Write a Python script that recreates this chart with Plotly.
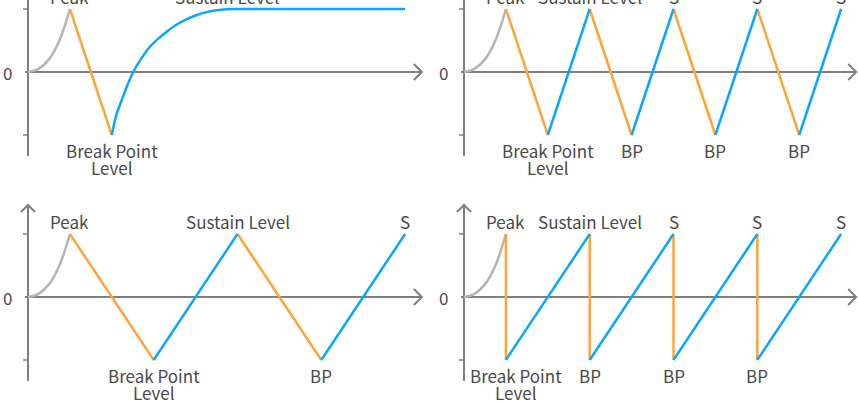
import plotly.graph_objects as go

# envelope data (time units, level units: peak/sustain = 1, break point = -1)
attack_t = [0, 0.25, 0.5, 0.75, 1]
attack_y = [0, 0.05, 0.2, 0.5, 1]

# panel 1: decay to break point, then exponential rise to sustain
p1_decay_t = [1, 2]
p1_decay_y = [1, -1]
p1_rise_t = [2, 2.11, 2.24, 2.36, 2.51, 2.71, 2.91, 3.11, 3.31, 3.55, 3.79, 4.03, 4.26, 4.5, 4.74, 5, 9]
p1_rise_y = [-1, -0.68, -0.44, -0.23, 0, 0.22, 0.40, 0.53, 0.64, 0.755, 0.84, 0.905, 0.95, 0.98, 0.995, 1, 1]
p1_top_t, p1_top_lbl = [1, 4.74], ["Peak", "Sustain Level"]
p1_bot_t, p1_bot_lbl = [2], ["Break Point|Level"]

# panel 2: fast loop
p2_decay_t = [1, 2, None, 3, 4, None, 5, 6, None, 7, 8]
p2_decay_y = [1, -1, None, 1, -1, None, 1, -1, None, 1, -1]
p2_rise_t = [2, 3, None, 4, 5, None, 6, 7, None, 8, 9]
p2_rise_y = [-1, 1, None, -1, 1, None, -1, 1, None, -1, 1]
p2_top_t, p2_top_lbl = [1, 3, 5, 7, 9], ["Peak", "Sustain Level", "S", "S", "S"]
p2_bot_t, p2_bot_lbl = [2, 4, 6, 8], ["Break Point|Level", "BP", "BP", "BP"]

# panel 3: slow loop
p3_decay_t = [1, 3, None, 5, 7]
p3_decay_y = [1, -1, None, 1, -1]
p3_rise_t = [3, 5, None, 7, 9]
p3_rise_y = [-1, 1, None, -1, 1]
p3_top_t, p3_top_lbl = [1, 5, 9], ["Peak", "Sustain Level", "S"]
p3_bot_t, p3_bot_lbl = [3, 7], ["Break Point|Level", "BP"]

# panel 4: instant decay, ramp
p4_decay_t = [1, 1, None, 3, 3, None, 5, 5, None, 7, 7]
p4_decay_y = [1, -1, None, 1, -1, None, 1, -1, None, 1, -1]
p4_rise_t = [1, 3, None, 3, 5, None, 5, 7, None, 7, 9]
p4_rise_y = [-1, 1, None, -1, 1, None, -1, 1, None, -1, 1]
p4_top_t, p4_top_lbl = [1, 3, 5, 7, 9], ["Peak", "Sustain Level", "S", "S", "S"]
p4_bot_t, p4_bot_lbl = [1, 3, 5, 7], ["Break Point|Level", "BP", "BP", "BP"]

W, H = 858, 404
PX_T, PX_Y = 41.9, 63.0
GRAY = "#B4B4B4"
ORANGE = "#FFA437"
BLUE = "#0AA6FF"
AXIS = "#7F7F7F"
TEXT = "#4A4A4A"
FONT = "Noto Sans CJK SC"
FSIZE = 17

panels = [
    ("", 28, 72, [0, 0.5], [0.5, 1], 9.4,
     p1_decay_t, p1_decay_y, p1_rise_t, p1_rise_y, p1_top_t, p1_top_lbl, p1_bot_t, p1_bot_lbl, "spline"),
    ("2", 35, 72, [0.5, 1], [0.5, 1], 9.36,
     p2_decay_t, p2_decay_y, p2_rise_t, p2_rise_y, p2_top_t, p2_top_lbl, p2_bot_t, p2_bot_lbl, "linear"),
    ("3", 28, 95, [0, 0.5], [0, 0.5], 9.4,
     p3_decay_t, p3_decay_y, p3_rise_t, p3_rise_y, p3_top_t, p3_top_lbl, p3_bot_t, p3_bot_lbl, "linear"),
    ("4", 35, 95, [0.5, 1], [0, 0.5], 9.36,
     p4_decay_t, p4_decay_y, p4_rise_t, p4_rise_y, p4_top_t, p4_top_lbl, p4_bot_t, p4_bot_lbl, "linear"),
]

fig = go.Figure()
shapes = []
annotations = []
layout = {}


def label(xa, ya, t, y, text, yshift, xshift=0):
    return dict(x=t, y=y, xref=xa, yref=ya, text=text, showarrow=False, yshift=yshift, xshift=xshift,
                font=dict(family=FONT, size=FSIZE, color=TEXT))


for (sfx, ox, oy, xdom, ydom, xend, dt, dy, rt, ry, tt, tl, bt, bl, rshape) in panels:
    xa, ya = "x" + sfx, "y" + sfx
    pw, ph = 429, 202
    layout["xaxis" + sfx] = dict(domain=xdom, range=[-ox / PX_T, (pw - ox) / PX_T], visible=False,
                                 fixedrange=True, anchor=ya)
    layout["yaxis" + sfx] = dict(domain=ydom, range=[(oy - ph) / PX_Y, oy / PX_Y], visible=False,
                                 fixedrange=True, anchor=xa)

    fig.add_trace(go.Scatter(x=attack_t, y=attack_y, mode="lines", xaxis=xa, yaxis=ya,
                             line=dict(color=GRAY, width=2.5, shape="spline", smoothing=1.0)))
    fig.add_trace(go.Scatter(x=dt, y=dy, mode="lines", xaxis=xa, yaxis=ya,
                             line=dict(color=ORANGE, width=2.5)))
    fig.add_trace(go.Scatter(x=rt, y=ry, mode="lines", xaxis=xa, yaxis=ya,
                             line=dict(color=BLUE, width=2.5, shape=rshape, smoothing=1.0)))

    ax = dict(type="line", xref=xa, yref=ya, line=dict(color=AXIS, width=2), layer="below")
    # x axis with arrow
    shapes.append(dict(ax, x0=-3 / PX_T, x1=xend, y0=0, y1=0))
    shapes.append(dict(ax, type="path", path="M %f,%f L %f,0 L %f,%f" % (
        xend - 8 / PX_T, 8 / PX_Y, xend, xend - 8 / PX_T, -8 / PX_Y)))
    # y axis with arrow
    ytop = 92 / PX_Y
    ybot = -84 / PX_Y
    shapes.append(dict(ax, x0=0, x1=0, y0=ybot, y1=ytop))
    shapes.append(dict(ax, type="path", path="M %f,%f L 0,%f L %f,%f" % (
        -7 / PX_T, ytop - 7 / PX_Y, ytop, 7 / PX_T, ytop - 7 / PX_Y)))
    for lv in (1, -1):
        shapes.append(dict(ax, x0=-5 / PX_T, x1=0, y0=lv, y1=lv, line=dict(color=AXIS, width=1.5)))

    annotations.append(label(xa, ya, 0, 0, "0", 0, -21))
    for t, s in zip(tt, tl):
        annotations.append(label(xa, ya, t, 1, s, 13))
    for t, s in zip(bt, bl):
        lines = s.split("|")
        xs = 10 if (len(lines) > 1 and sfx == "4") else 0
        for i, ln in enumerate(lines):
            annotations.append(label(xa, ya, t, -1, ln, -15 - 17 * i, xs))

fig.update_layout(
    width=W, height=H,
    margin=dict(l=0, r=0, t=0, b=0),
    paper_bgcolor="white", plot_bgcolor="white",
    showlegend=False,
    shapes=shapes, annotations=annotations,
    **layout,
)

fig.write_html("out.html", config={"displayModeBar": False},
               post_script="document.body.style.margin='0';")
